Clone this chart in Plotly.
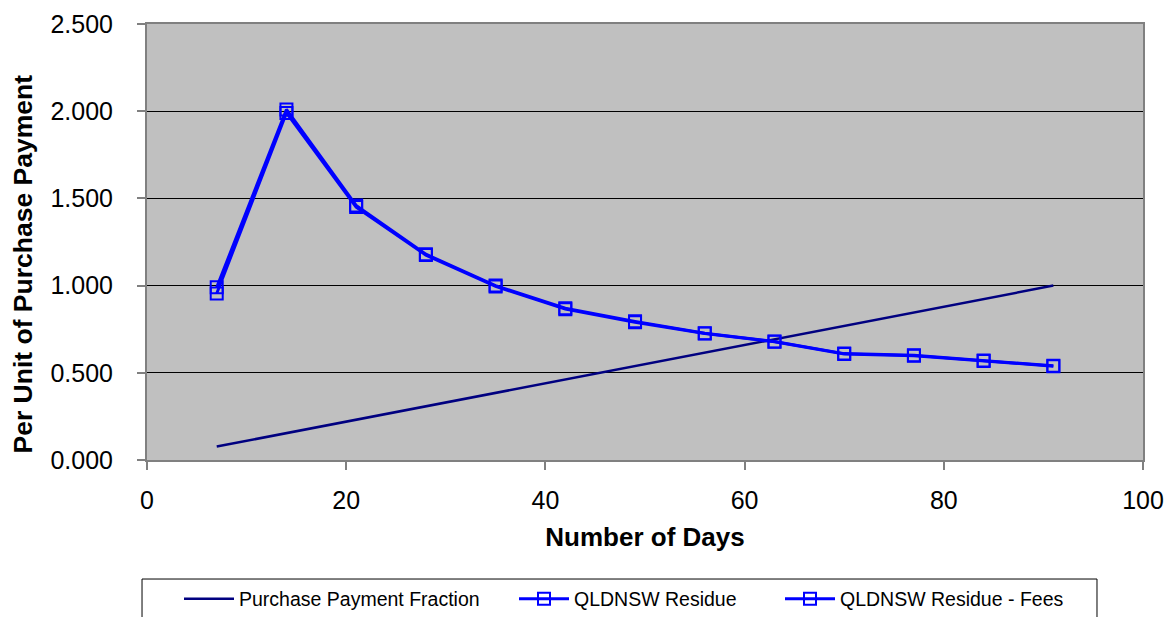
import plotly.graph_objects as go

# data
days = [7, 14, 21, 28, 35, 42, 49, 56, 63, 70, 77, 84, 91]
payment_fraction = [0.077, 0.154, 0.231, 0.308, 0.385, 0.462, 0.538,
                    0.615, 0.692, 0.769, 0.846, 0.923, 1.000]
qldnsw_residue = [0.99, 2.01, 1.46, 1.18, 1.00, 0.87, 0.795,
                  0.727, 0.68, 0.61, 0.60, 0.57, 0.54]
qldnsw_residue_fees = [0.955, 1.99, 1.45, 1.175, 0.995, 0.865, 0.79,
                       0.725, 0.678, 0.608, 0.598, 0.568, 0.538]
x_ticks = [0, 20, 40, 60, 80, 100]
y_ticks = [0, 0.5, 1.0, 1.5, 2.0, 2.5]

font = "Liberation Sans, Arial, sans-serif"
# the page body has an 8px margin, so the figure is made 8px smaller
W, H = 1166, 609

fig = go.Figure()
fig.add_trace(go.Scatter(
    x=days, y=payment_fraction, name="Purchase Payment Fraction",
    mode="lines", line=dict(color="#000080", width=2.5), legend="legend",
))
fig.add_trace(go.Scatter(
    x=days, y=qldnsw_residue, name="QLDNSW Residue",
    mode="lines+markers", line=dict(color="#0000FF", width=3),
    marker=dict(symbol="square-open", size=12, color="#0000FF",
                line=dict(width=2, color="#0000FF")),
    legend="legend2",
))
fig.add_trace(go.Scatter(
    x=days, y=qldnsw_residue_fees, name="QLDNSW Residue - Fees",
    mode="lines+markers", line=dict(color="#0000FF", width=3),
    marker=dict(symbol="square-open", size=12, color="#0000FF",
                line=dict(width=2, color="#0000FF")),
    legend="legend3",
))


def legend_at(px):
    # one legend per entry, placed in container pixels so it won't push margins
    return dict(
        orientation="h", xref="container", yref="container",
        x=(px - 8) / W, xanchor="left", y=1 - 591 / H, yanchor="middle",
        borderwidth=0, bgcolor="rgba(0,0,0,0)", itemwidth=50,
        font=dict(size=19.5),
    )


fig.update_layout(
    width=W, height=H,
    margin=dict(l=139, r=31, t=16, b=157, autoexpand=False),
    paper_bgcolor="white", plot_bgcolor="#C0C0C0",
    font=dict(family=font, size=25, color="black"),
    showlegend=True,
    legend=legend_at(179),
    legend2=legend_at(514),
    legend3=legend_at(780),
    # legend frame runs off the bottom of the picture
    shapes=[dict(type="rect", xref="paper", yref="paper",
                 x0=-0.005, x1=0.9538, y0=-0.273, y1=-0.40,
                 line=dict(color="black", width=1), fillcolor="white",
                 layer="below")],
    annotations=[dict(text="<b>Per Unit of Purchase Payment</b>", textangle=-90,
                      xref="paper", yref="paper", x=-0.1235, y=0.4507,
                      xanchor="center", yanchor="middle",
                      showarrow=False, font=dict(size=26.5))],
)
fig.update_xaxes(
    range=[0, 100], tickvals=x_ticks, showgrid=False, zeroline=False,
    showline=True, linecolor="#808080", linewidth=2, mirror=True,
    ticks="outside", ticklen=8, tickcolor="#808080", tickwidth=2,
    ticklabelstandoff=9, automargin=False,
    title=dict(text="<b>Number of Days</b>", font=dict(size=26), standoff=15),
)
fig.update_yaxes(
    range=[0, 2.5], tickvals=y_ticks, tickformat=".3f",
    showgrid=True, gridcolor="black", gridwidth=1, zeroline=False,
    showline=True, linecolor="#808080", linewidth=2, mirror=True,
    ticks="outside", ticklen=8, tickcolor="#808080", tickwidth=2,
    ticklabelstandoff=19, automargin=False,
)

fig.write_html("out.html")
